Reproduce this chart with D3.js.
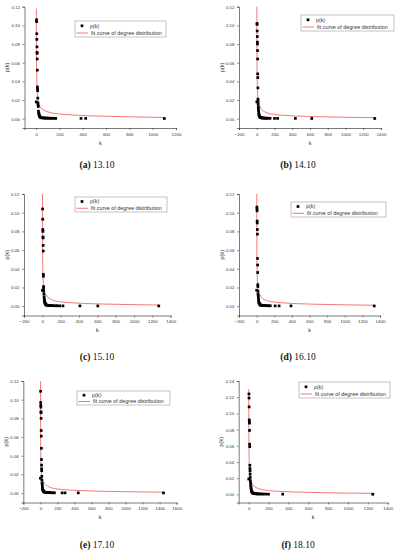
<!DOCTYPE html>
<html>
<head>
<meta charset="utf-8">
<title>degree distribution panels</title>
<script src="https://d3js.org/d3.v7.min.js"></script>
<style>
  body { margin: 0; background: #fff; }
  svg { display: block; font-family: "Liberation Sans", Arial, sans-serif; }
  .caption { font-family: "Liberation Serif", "Times New Roman", serif; }
</style>
</head>
<body>
<div id="chart"></div>
<script>
// p(k) points, [k, p]
var pointsA = [[1,0.018],[3,0.106],[4,0.104],[5,0.091],[6,0.085],[7,0.077],[8,0.071],[8,0.070],[9,0.064],[10,0.052],[11,0.034],[12,0.032],[13,0.030],[14,0.022],[15,0.017],[16,0.015],[18,0.013],[20,0.008],[22,0.006],[24,0.005],[26,0.004],[28,0.003],[30,0.0025],[33,0.002],[36,0.0015],[40,0.0012],[45,0.001],[52,0.0009],[60,0.0008],[68,0.0007],[76,0.0007],[85,0.0006],[95,0.0006],[105,0.0005],[115,0.0005],[128,0.0004],[140,0.0004],[155,0.0004],[168,0.0003],[385,0.0003],[425,0.0003],[1100,0.0002]];
var pointsB = [[1,0.018],[3,0.102],[4,0.101],[5,0.094],[6,0.088],[7,0.082],[8,0.080],[9,0.073],[10,0.064],[11,0.048],[12,0.044],[13,0.033],[14,0.021],[15,0.019],[16,0.016],[17,0.013],[18,0.011],[20,0.009],[22,0.007],[24,0.005],[26,0.004],[28,0.003],[31,0.0025],[34,0.002],[38,0.0015],[42,0.0012],[48,0.001],[55,0.0009],[62,0.0008],[70,0.0007],[80,0.0006],[90,0.0006],[100,0.0005],[115,0.0005],[130,0.0004],[150,0.0004],[200,0.0003],[235,0.0003],[435,0.0003],[620,0.0002],[1330,0.0002]];
var pointsC = [[1,0.017],[3,0.104],[4,0.093],[5,0.082],[6,0.080],[7,0.074],[8,0.073],[9,0.065],[10,0.059],[11,0.034],[12,0.032],[13,0.021],[14,0.019],[15,0.016],[17,0.013],[19,0.010],[21,0.008],[23,0.006],[25,0.005],[27,0.004],[30,0.003],[33,0.0025],[36,0.002],[40,0.0015],[45,0.0012],[50,0.001],[58,0.0009],[66,0.0008],[75,0.0007],[85,0.0006],[96,0.0006],[110,0.0005],[125,0.0005],[145,0.0004],[165,0.0004],[190,0.0003],[225,0.0003],[410,0.0003],[605,0.0002],[1270,0.0002]];
var pointsD = [[1,0.017],[3,0.106],[4,0.104],[5,0.102],[6,0.091],[7,0.089],[8,0.082],[9,0.077],[10,0.051],[11,0.044],[12,0.036],[13,0.023],[14,0.021],[15,0.016],[16,0.013],[18,0.011],[20,0.009],[22,0.007],[24,0.005],[26,0.004],[29,0.003],[32,0.0025],[35,0.002],[39,0.0015],[44,0.0012],[50,0.001],[57,0.0009],[65,0.0008],[74,0.0007],[84,0.0006],[95,0.0006],[108,0.0005],[122,0.0005],[138,0.0004],[155,0.0004],[210,0.0003],[255,0.0003],[390,0.0003],[1335,0.0002]];
var pointsE = [[1,0.016],[3,0.109],[4,0.097],[5,0.094],[6,0.092],[7,0.087],[8,0.086],[9,0.080],[10,0.067],[11,0.061],[12,0.048],[13,0.036],[14,0.030],[15,0.026],[16,0.024],[17,0.018],[18,0.014],[20,0.011],[22,0.009],[24,0.007],[26,0.005],[28,0.004],[31,0.003],[34,0.0025],[38,0.002],[42,0.0015],[47,0.0012],[53,0.001],[60,0.0009],[68,0.0008],[77,0.0007],[87,0.0006],[98,0.0006],[110,0.0005],[125,0.0005],[145,0.0004],[165,0.0004],[255,0.0003],[290,0.0003],[445,0.0003],[1445,0.0002]];
var pointsF = [[1,0.019],[3,0.124],[4,0.119],[5,0.108],[6,0.092],[7,0.090],[8,0.088],[9,0.079],[10,0.062],[11,0.059],[12,0.036],[13,0.032],[14,0.029],[15,0.025],[16,0.021],[17,0.017],[19,0.014],[21,0.011],[23,0.009],[25,0.007],[27,0.005],[30,0.004],[33,0.003],[36,0.0025],[40,0.002],[45,0.0015],[50,0.0012],[56,0.001],[63,0.0009],[71,0.0008],[80,0.0007],[90,0.0006],[102,0.0006],[116,0.0005],[132,0.0005],[150,0.0004],[175,0.0004],[200,0.0003],[343,0.0003],[1250,0.0002]];

// fit curves
var fitA = [[1.5,0.118],[2,0.09],[3,0.063],[5,0.043],[8,0.031],[12,0.024],[20,0.017],[35,0.0125],[50,0.0105],[80,0.0082],[120,0.0066],[200,0.005],[300,0.004],[450,0.0031],[600,0.0026],[800,0.002],[1000,0.0015],[1100,0.0013]];
var fitB = [[1.5,0.12],[2,0.09],[3,0.062],[5,0.042],[8,0.03],[12,0.023],[20,0.016],[38,0.0125],[60,0.0095],[113,0.0064],[200,0.0045],[300,0.0036],[450,0.0028],[650,0.0022],[900,0.0017],[1150,0.0013],[1330,0.0011]];
var fitC = [[1.5,0.12],[2,0.09],[3,0.062],[5,0.042],[8,0.03],[12,0.023],[20,0.016],[38,0.0125],[60,0.0095],[110,0.0066],[200,0.0046],[300,0.0037],[450,0.0029],[650,0.0023],[900,0.0018],[1100,0.0014],[1270,0.0012]];
var fitD = [[1.5,0.12],[2,0.09],[3,0.062],[5,0.042],[8,0.03],[12,0.023],[20,0.016],[38,0.012],[60,0.009],[110,0.0062],[200,0.0044],[300,0.0035],[450,0.0027],[650,0.0021],[900,0.0016],[1150,0.0012],[1335,0.001]];
var fitE = [[1.5,0.12],[2,0.09],[3,0.062],[5,0.042],[8,0.03],[12,0.023],[20,0.016],[38,0.012],[60,0.0092],[110,0.0064],[200,0.0045],[300,0.0036],[450,0.0028],[650,0.0022],[900,0.0017],[1200,0.0013],[1445,0.0011]];
var fitF = [[1.5,0.13],[2,0.1],[3,0.07],[5,0.047],[8,0.033],[12,0.025],[20,0.018],[38,0.013],[60,0.0098],[110,0.0068],[200,0.0048],[300,0.0038],[450,0.003],[650,0.0024],[900,0.0018],[1100,0.0015],[1250,0.0013]];

var xTicksA = [0,200,400,600,800,1000,1200];
var xTicksB = [-200,0,200,400,600,800,1000,1200,1400];
var xTicksE = [-200,0,200,400,600,800,1000,1200,1400,1600];
var xTicksF = [0,200,400,600,800,1000,1200,1400];
var yTicks = [0,0.02,0.04,0.06,0.08,0.10,0.12];
var yTicksF = [0,0.02,0.04,0.06,0.08,0.10,0.12,0.14];

var letters = ["(a)","(b)","(c)","(d)","(e)","(f)"];
var dates = ["13.10","14.10","15.10","16.10","17.10","18.10"];
var legendNames = ["p(k)","fit curve of degree distribution"];

var width = 397, height = 550;

// panel frames (plot area), legend boxes and caption anchors
var panels = [
  {pts: pointsA, fit: fitA, xt: xTicksA, yt: yTicks, xDom: [-100,1200], yDom: [-0.01,0.12],
   l: 24.5, r: 176, t: 6.7, b: 128, leg: [75,21,91,16], cx: 97, cy: 168},
  {pts: pointsB, fit: fitB, xt: xTicksB, yt: yTicks, xDom: [-200,1400], yDom: [-0.01,0.12],
   l: 239, r: 381, t: 6.7, b: 128, leg: [301,15,93,16], cx: 298, cy: 168},
  {pts: pointsC, fit: fitC, xt: xTicksB, yt: yTicks, xDom: [-200,1400], yDom: [-0.01,0.12],
   l: 24, r: 170.7, t: 194, b: 315.5, leg: [75,197,92,15], cx: 97, cy: 360},
  {pts: pointsD, fit: fitD, xt: xTicksB, yt: yTicks, xDom: [-200,1400], yDom: [-0.01,0.12],
   l: 239, r: 380, t: 194, b: 315.5, leg: [291,202,95,15], cx: 298, cy: 360},
  {pts: pointsE, fit: fitE, xt: xTicksE, yt: yTicks, xDom: [-200,1600], yDom: [-0.01,0.12],
   l: 23.3, r: 176.7, t: 381, b: 502.5, leg: [77,391,93,14], cx: 97, cy: 547.5},
  {pts: pointsF, fit: fitF, xt: xTicksF, yt: yTicksF, xDom: [-100,1400], yDom: [-0.01,0.14],
   l: 238.7, r: 387.7, t: 381, b: 502.5, leg: [299,382,91,16], cx: 298, cy: 547.5}
];

var svg = d3.select("#chart").append("svg")
  .attr("width", width)
  .attr("height", height);

svg.append("rect").attr("width", width).attr("height", height).attr("fill", "#fff");

var ms = 2.7; // marker size

panels.forEach(function(p, i) {
  var x = d3.scaleLinear().domain(p.xDom).range([p.l, p.r]);
  var y = d3.scaleLinear().domain(p.yDom).range([p.b, p.t]);
  var g = svg.append("g");

  // axes
  var xa = g.append("g")
    .attr("transform", "translate(0," + p.b + ")")
    .call(d3.axisBottom(x).tickValues(p.xt).tickSize(2).tickPadding(2.5).tickFormat(d3.format("d")));
  var ya = g.append("g")
    .attr("transform", "translate(" + p.l + ",0)")
    .call(d3.axisLeft(y).tickValues(p.yt).tickSize(2).tickPadding(2.5).tickFormat(d3.format(".2f")));
  [xa, ya].forEach(function(a) {
    a.select(".domain").attr("stroke", "#222").attr("stroke-width", 0.6);
    a.selectAll(".tick line").attr("stroke", "#222").attr("stroke-width", 0.5);
    a.selectAll(".tick text").attr("font-size", 4.4).attr("fill", "#333")
      .attr("font-family", "Liberation Sans, Arial, sans-serif");
  });

  // axis titles
  g.append("text")
    .attr("x", (p.l + p.r) / 2)
    .attr("y", p.b + 16.5)
    .attr("text-anchor", "middle")
    .attr("font-size", 5.5)
    .attr("fill", "#333")
    .text("k");
  g.append("text")
    .attr("transform", "translate(" + (p.l - 15.5) + "," + ((p.t + p.b) / 2) + ") rotate(-90)")
    .attr("text-anchor", "middle")
    .attr("font-size", 5.5)
    .attr("fill", "#333")
    .text("p(k)");

  // fit curve
  var line = d3.line()
    .x(function(d) { return x(d[0]); })
    .y(function(d) { return y(d[1]); })
    .curve(d3.curveMonotoneX);
  g.append("path")
    .datum(p.fit)
    .attr("d", line)
    .attr("fill", "none")
    .attr("stroke", "#f03c3c")
    .attr("stroke-width", 0.7);

  // points
  g.selectAll("rect.pt")
    .data(p.pts)
    .enter()
    .append("rect")
    .attr("class", "pt")
    .attr("x", function(d) { return x(d[0]) - ms / 2; })
    .attr("y", function(d) { return y(d[1]) - ms / 2; })
    .attr("width", ms)
    .attr("height", ms)
    .attr("fill", "#000");

  // legend
  var lg = p.leg;
  g.append("rect")
    .attr("x", lg[0]).attr("y", lg[1])
    .attr("width", lg[2]).attr("height", lg[3])
    .attr("fill", "#fff")
    .attr("stroke", "#888")
    .attr("stroke-width", 0.5);
  var row1 = lg[1] + lg[3] * 0.3, row2 = lg[1] + lg[3] * 0.75;
  g.append("rect")
    .attr("x", lg[0] + 7 - ms / 2).attr("y", row1 - ms / 2)
    .attr("width", ms).attr("height", ms)
    .attr("fill", "#000");
  g.append("line")
    .attr("x1", lg[0] + 1.5).attr("x2", lg[0] + 13)
    .attr("y1", row2).attr("y2", row2)
    .attr("stroke", "#f03c3c").attr("stroke-width", 0.7);
  g.append("text")
    .attr("x", lg[0] + 15).attr("y", row1)
    .attr("dy", "0.35em")
    .attr("font-size", 5.4).attr("fill", "#333")
    .text(legendNames[0]);
  g.append("text")
    .attr("x", lg[0] + 16).attr("y", row2)
    .attr("dy", "0.35em")
    .attr("font-size", 5.4).attr("fill", "#333")
    .text(legendNames[1]);

  // caption
  var cap = g.append("text")
    .attr("class", "caption")
    .attr("x", p.cx).attr("y", p.cy)
    .attr("text-anchor", "middle")
    .attr("font-size", 9.5)
    .attr("fill", "#111");
  cap.append("tspan").attr("font-weight", "bold").text(letters[i]);
  cap.append("tspan").text(" " + dates[i]);
});
</script>
</body>
</html>
